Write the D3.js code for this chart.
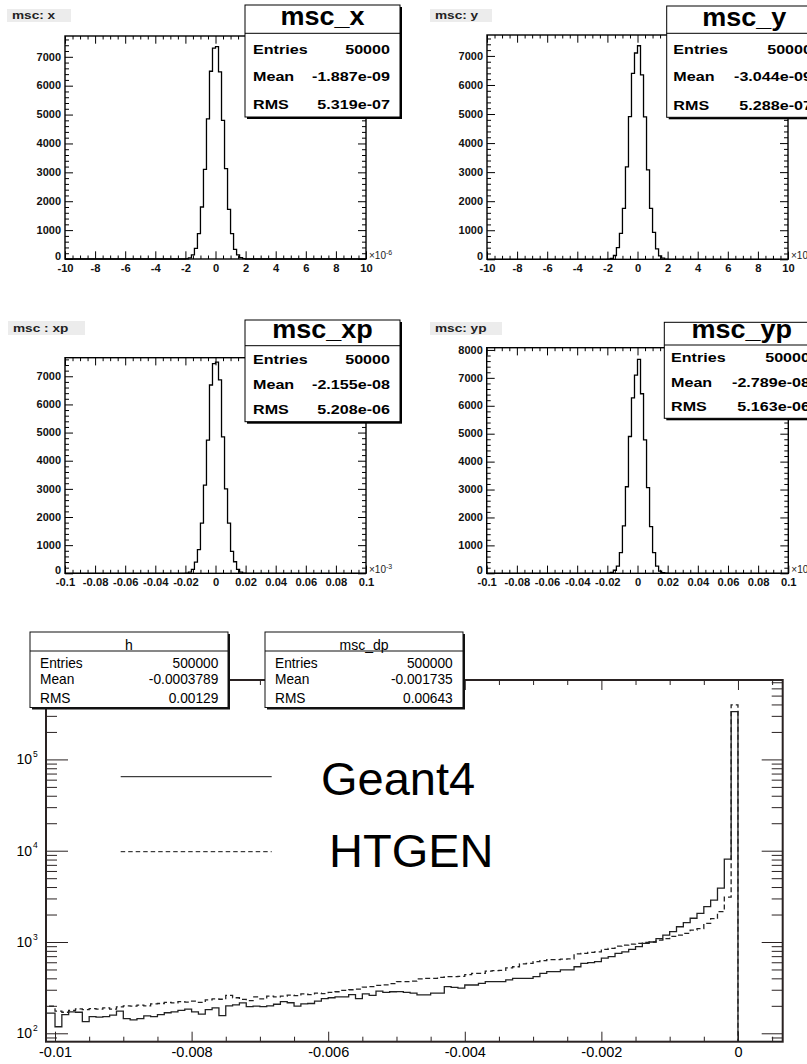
<!DOCTYPE html>
<html>
<head>
<meta charset="utf-8">
<script src="https://cdn.jsdelivr.net/npm/d3@7"></script>
<style>
  body { margin: 0; background: #fff; }
  svg { display: block; font-family: "Liberation Sans", Arial, Helvetica, sans-serif; }
</style>
</head>
<body>
<svg id="canvas" width="807" height="1064"></svg>
<script>
// ---------------------------------------------------------------------------
// Data
// ---------------------------------------------------------------------------

// msc_x / msc_y : bins of 0.2 (x10^-6) covering [-2, 2]; all other bins in [-10, 10] are empty
const posBinStart = -2;
const posBinWidth = 0.2;
const mscXCounts  = [8, 40, 140, 370, 880, 1800, 3100, 4850, 6500, 7300, 7350, 6480, 4800, 3130, 1720, 880, 330, 140, 45, 10];
const mscYCounts  = [5, 35, 130, 400, 890, 1750, 3180, 4910, 6400, 7100, 7350, 6350, 4900, 3080, 1750, 930, 360, 120, 40, 8];

// msc_xp / msc_yp : bins of 0.002 (x10^-3) covering [-0.02, 0.02]; all other bins in [-0.1, 0.1] are empty
const angBinStart = -0.02;
const angBinWidth = 0.002;
const mscXpCounts = [8, 40, 140, 400, 840, 1780, 3130, 4730, 6690, 7450, 7500, 6870, 4850, 3000, 1780, 780, 410, 140, 45, 8];
const mscYpCounts = [5, 30, 110, 260, 740, 1700, 3100, 4900, 6280, 7100, 7660, 6430, 4780, 3070, 1670, 740, 260, 80, 25, 5];

const posTicks      = [-10, -8, -6, -4, -2, 0, 2, 4, 6, 8, 10];
const posTickLabels = ["-10", "-8", "-6", "-4", "-2", "0", "2", "4", "6", "8", "10"];
const angTicks      = [-0.1, -0.08, -0.06, -0.04, -0.02, 0, 0.02, 0.04, 0.06, 0.08, 0.1];
const angTickLabels = ["-0.1", "-0.08", "-0.06", "-0.04", "-0.02", "0", "0.02", "0.04", "0.06", "0.08", "0.1"];
const countTicks7   = [0, 1000, 2000, 3000, 4000, 5000, 6000, 7000];
const countTicks8   = [0, 1000, 2000, 3000, 4000, 5000, 6000, 7000, 8000];

const panelTitles   = ["msc: x", "msc: y", "msc : xp", "msc: yp"];
const statNames     = ["msc_x", "msc_y", "msc_xp", "msc_yp"];
const statEntries   = ["50000", "50000", "50000", "50000"];
const statMeans     = ["-1.887e-09", "-3.044e-09", "-2.155e-08", "-2.789e-08"];
const statRMS       = ["5.319e-07", "5.288e-07", "5.208e-06", "5.163e-06"];
const axisExponents = ["-6", "-6", "-3", "-3"];

// Energy-loss comparison: bins of 0.0001 starting at -0.0102 (109 bins up to 0.0007)
const dpBinStart = -0.0102;
const dpBinWidth = 0.0001;
const geant4Counts = [
  166, 166, 118, 160, 172, 170, 134, 152, 150, 152, 158, 175, 145, 140, 145, 155, 152, 160, 168, 172,
  178, 184, 172, 162, 182, 190, 156, 200, 205, 215, 196, 198, 196, 200, 208, 222, 216, 198, 210, 212,
  225, 240, 245, 250, 250, 265, 240, 270, 260, 290, 280, 285, 286, 280, 275, 263, 263, 275, 275, 324,
  318, 313, 338, 338, 353, 368, 368, 368, 384, 400, 400, 400, 417, 454, 474, 474, 494, 494, 536, 584,
  595, 610, 665, 690, 751, 780, 830, 888, 966, 1000, 1090, 1190, 1300, 1470, 1630, 1820, 2060, 2440, 2880, 3900,
  8070, 333000, 0, 0, 0, 0, 0, 0, 0
];
const htgenCounts = [
  200, 198, 175, 170, 178, 185, 182, 186, 184, 190, 184, 195, 200, 198, 204, 200, 210, 212, 218, 215,
  222, 220, 225, 218, 232, 238, 236, 260, 245, 235, 228, 250, 238, 255, 250, 256, 262, 258, 270, 265,
  276, 272, 280, 285, 295, 300, 305, 320, 325, 335, 340, 350, 368, 368, 372, 395, 400, 400, 410, 417,
  417, 420, 440, 454, 454, 480, 486, 490, 520, 536, 575, 584, 610, 625, 640, 640, 650, 655, 740, 751,
  770, 780, 830, 850, 900, 925, 950, 966, 990, 1000, 1050, 1090, 1150, 1190, 1243, 1352, 1400, 1600, 1800, 2150,
  3100, 395000, 0, 0, 0, 0, 0, 0, 0
];
const dpTicks         = [-0.01, -0.008, -0.006, -0.004, -0.002, 0];
const dpTickLabels    = ["-0.01", "-0.008", "-0.006", "-0.004", "-0.002", "0"];
const logTicks        = [1e2, 1e3, 1e4, 1e5];
const logTickExps     = ["2", "3", "4", "5"];
const seriesNames     = ["Geant4", "HTGEN"];
const dpStatNames     = ["h", "msc_dp"];
const dpEntries       = ["500000", "500000"];
const dpMeans         = ["-0.0003789", "-0.001735"];
const dpRMS           = ["0.00129", "0.00643"];

// ---------------------------------------------------------------------------
// Layout
// ---------------------------------------------------------------------------
const svg = d3.select("#canvas");

const smallPanels = [
  { counts: mscXCounts, binStart: posBinStart, binW: posBinWidth, xDomain: [-10, 10], ticks: posTicks, tickLabels: posTickLabels,
    minorStep: 0.5, yMax: 7720, yTicks: countTicks7,
    frame: { l: 65, r: 366, t: 36, b: 259 }, tbox: { x: 7, y: 9, w: 64, h: 13 },
    stat: { x: 245, y: 5, w: 155, h: 112, sep: 33.3, title: 25, rows: [49.3, 76.7, 104], lx: 253, vx: 390 } },
  { counts: mscYCounts, binStart: posBinStart, binW: posBinWidth, xDomain: [-10, 10], ticks: posTicks, tickLabels: posTickLabels,
    minorStep: 0.5, yMax: 7720, yTicks: countTicks7,
    frame: { l: 487, r: 788, t: 35, b: 259.3 }, tbox: { x: 430, y: 9, w: 62, h: 13 },
    stat: { x: 666.7, y: 6, w: 155, h: 111.3, sep: 33.3, title: 26, rows: [49.3, 76.7, 105.3], lx: 673.3, vx: 812 } },
  { counts: mscXpCounts, binStart: angBinStart, binW: angBinWidth, xDomain: [-0.1, 0.1], ticks: angTicks, tickLabels: angTickLabels,
    minorStep: 0.005, yMax: 7660, yTicks: countTicks7,
    frame: { l: 65, r: 366, t: 357.7, b: 573.3 }, tbox: { x: 8, y: 321, w: 77, h: 14 },
    stat: { x: 245, y: 320, w: 155, h: 101.7, sep: 345.7, title: 338.3, rows: [359, 384, 409], lx: 253, vx: 390 } },
  { counts: mscYpCounts, binStart: angBinStart, binW: angBinWidth, xDomain: [-0.1, 0.1], ticks: angTicks, tickLabels: angTickLabels,
    minorStep: 0.005, yMax: 8080, yTicks: countTicks8,
    frame: { l: 486.7, r: 788.3, t: 347.7, b: 573.3 }, tbox: { x: 430, y: 322, w: 72, h: 13 },
    stat: { x: 664.3, y: 322.3, w: 155, h: 96, sep: 345, title: 338.3, rows: [357.7, 382.7, 406.7], lx: 671, vx: 810 } }
];

// Text helper: horizontally stretched text anchored at (x, y)
function label(g, x, y, str, o) {
  return g.append("text")
    .attr("transform", `translate(${x},${y}) scale(${o.sx || 1},1)`)
    .attr("text-anchor", o.anchor || "start")
    .style("font-size", o.size + "px")
    .style("font-weight", o.weight || "normal")
    .attr("fill", o.fill || "#000")
    .text(str);
}

function styleAxis(g) {
  g.select(".domain").remove();
  g.attr("font-family", null).attr("font-size", null);
}

function minorValues(domain, step, majors) {
  const n = Math.round((domain[1] - domain[0]) / step);
  return d3.range(n + 1).map(i => domain[0] + i * step)
    .filter(v => !majors.some(m => Math.abs(m - v) < step * 1e-3));
}

// ---------------------------------------------------------------------------
// Four small histograms
// ---------------------------------------------------------------------------
smallPanels.forEach((p, idx) => {
  const g = svg.append("g");
  const f = p.frame;
  const x = d3.scaleLinear().domain(p.xDomain).range([f.l, f.r]);
  const y = d3.scaleLinear().domain([0, p.yMax]).range([f.b, f.t]);

  // grey title tag
  g.append("rect").attr("x", p.tbox.x).attr("y", p.tbox.y).attr("width", p.tbox.w).attr("height", p.tbox.h)
    .attr("fill", "#ececec");
  label(g, p.tbox.x + 5, p.tbox.y + p.tbox.h - 3, panelTitles[idx], { size: 10.5, weight: "bold", sx: 1.3, fill: "#222" });

  // frame
  g.append("rect").attr("x", f.l).attr("y", f.t).attr("width", f.r - f.l).attr("height", f.b - f.t)
    .attr("fill", "none").attr("stroke", "#000").attr("stroke-width", 1.4);

  const minorX = minorValues(p.xDomain, p.minorStep, p.ticks);
  const minorY = d3.range(0, p.yMax, 200).filter(v => v % 1000 !== 0);

  // bottom axis with labels
  const bx = g.append("g").attr("transform", `translate(0,${f.b})`)
    .call(d3.axisBottom(x).tickValues(p.ticks).tickSizeInner(-7.7).tickSizeOuter(0).tickPadding(5.5)
      .tickFormat((d, i) => p.tickLabels[i]));
  styleAxis(bx);
  bx.selectAll("text").style("font-size", "10px").style("font-weight", "bold").attr("fill", "#111")
    .attr("transform", "scale(1.12,1)");
  g.append("g").attr("transform", `translate(0,${f.b})`)
    .call(d3.axisBottom(x).tickValues(minorX).tickSizeInner(-3.5).tickSizeOuter(0).tickFormat(""))
    .call(styleAxis);
  // top axis
  g.append("g").attr("transform", `translate(0,${f.t})`)
    .call(d3.axisTop(x).tickValues(p.ticks).tickSizeInner(-7.7).tickSizeOuter(0).tickFormat(""))
    .call(styleAxis);
  g.append("g").attr("transform", `translate(0,${f.t})`)
    .call(d3.axisTop(x).tickValues(minorX).tickSizeInner(-3.5).tickSizeOuter(0).tickFormat(""))
    .call(styleAxis);
  // left axis with labels
  const ly = g.append("g").attr("transform", `translate(${f.l},0)`)
    .call(d3.axisLeft(y).tickValues(p.yTicks).tickSizeInner(-8).tickSizeOuter(0).tickPadding(3.6)
      .tickFormat(d3.format("d")));
  styleAxis(ly);
  ly.selectAll("text").style("font-size", "10px").style("font-weight", "bold").attr("fill", "#111")
    .attr("transform", d => d === 0 ? "translate(0,-3) scale(1.1,1)" : "scale(1.1,1)");
  g.append("g").attr("transform", `translate(${f.l},0)`)
    .call(d3.axisLeft(y).tickValues(minorY).tickSizeInner(-4).tickSizeOuter(0).tickFormat(""))
    .call(styleAxis);
  // right axis
  g.append("g").attr("transform", `translate(${f.r},0)`)
    .call(d3.axisRight(y).tickValues(p.yTicks).tickSizeInner(-8).tickSizeOuter(0).tickFormat(""))
    .call(styleAxis);
  g.append("g").attr("transform", `translate(${f.r},0)`)
    .call(d3.axisRight(y).tickValues(minorY).tickSizeInner(-4).tickSizeOuter(0).tickFormat(""))
    .call(styleAxis);

  // exponent of the x axis
  const ex = g.append("text").attr("transform", `translate(${f.r + 3},${f.b})`)
    .style("font-size", "10px").attr("fill", "#222");
  ex.append("tspan").text("\u00d710");
  ex.append("tspan").attr("dy", -4).style("font-size", "7px").text(axisExponents[idx]);

  // histogram outline
  const nb = p.counts.length;
  const pts = [[p.xDomain[0], 0], [p.binStart, 0]];
  p.counts.forEach((c, i) => {
    const lo = p.binStart + i * p.binW;
    pts.push([lo, c], [lo + p.binW, c]);
  });
  pts.push([p.binStart + nb * p.binW, 0], [p.xDomain[1], 0]);
  g.append("path").datum(pts)
    .attr("d", d3.line().x(d => x(d[0])).y(d => y(d[1])))
    .attr("fill", "none").attr("stroke", "#000").attr("stroke-width", 1.3);

  // statistics box with shadow
  const s = p.stat;
  g.append("rect").attr("x", s.x + 2).attr("y", s.y + 2).attr("width", s.w).attr("height", s.h).attr("fill", "#000");
  g.append("rect").attr("x", s.x).attr("y", s.y).attr("width", s.w).attr("height", s.h)
    .attr("fill", "#fff").attr("stroke", "#000").attr("stroke-width", 1);
  g.append("line").attr("x1", s.x).attr("x2", s.x + s.w).attr("y1", s.sep).attr("y2", s.sep)
    .attr("stroke", "#000").attr("stroke-width", 1);
  label(g, s.x + s.w / 2, s.title, statNames[idx], { size: 25, weight: "bold", sx: 1.08, anchor: "middle" });
  const rowLabels = ["Entries", "Mean", "RMS"];
  const rowValues = [statEntries[idx], statMeans[idx], statRMS[idx]];
  s.rows.forEach((ry, i) => {
    label(g, s.lx, ry + 4.6, rowLabels[i], { size: 12.6, weight: "bold", sx: 1.28 });
    label(g, s.vx, ry + 4.6, rowValues[i], { size: 12.6, weight: "bold", sx: 1.28, anchor: "end" });
  });
});

// ---------------------------------------------------------------------------
// Energy-loss comparison (log scale)
// ---------------------------------------------------------------------------
const F = { l: 46, r: 782.7, t: 680, b: 1041.7 };
const dpDomain = [-0.010132, 0.000655];
const xd = d3.scaleLinear().domain(dpDomain).range([F.l, F.r]);
const yd = d3.scaleLog().domain([80.9, 741000]).range([F.b, F.t]);
const gb = svg.append("g");

svg.append("defs").append("clipPath").attr("id", "dpClip")
  .append("rect").attr("x", F.l).attr("y", F.t).attr("width", F.r - F.l).attr("height", F.b - F.t);

const dpMinor = minorValues([-0.01, 0.0005], 0.0005, dpTicks);
const logMinor = [];
[1, 2, 3, 4, 5].forEach(dec => d3.range(2, 10).forEach(m => {
  const v = m * Math.pow(10, dec);
  if (v >= 80.9 && v <= 741000) logMinor.push(v);
}));

const axisCol = "#2a2222";
function tickAxis(axis, tr) {
  const a = gb.append("g").attr("transform", tr).call(axis);
  styleAxis(a);
  a.selectAll("line").attr("stroke", axisCol);
  return a;
}
// x axes
const bxAxis = tickAxis(d3.axisBottom(xd).tickValues(dpTicks).tickSizeInner(-10).tickSizeOuter(0).tickPadding(5)
  .tickFormat((d, i) => dpTickLabels[i]), `translate(0,${F.b})`);
bxAxis.selectAll("text").style("font-size", "14.5px").attr("fill", "#000");
tickAxis(d3.axisBottom(xd).tickValues(dpMinor).tickSizeInner(-5).tickSizeOuter(0).tickFormat(""), `translate(0,${F.b})`);
tickAxis(d3.axisTop(xd).tickValues(dpTicks).tickSizeInner(-10).tickSizeOuter(0).tickFormat(""), `translate(0,${F.t})`);
tickAxis(d3.axisTop(xd).tickValues(dpMinor).tickSizeInner(-5).tickSizeOuter(0).tickFormat(""), `translate(0,${F.t})`);
// y axes
tickAxis(d3.axisLeft(yd).tickValues(logTicks).tickSizeInner(-22).tickSizeOuter(0).tickFormat(""), `translate(${F.l},0)`);
tickAxis(d3.axisLeft(yd).tickValues(logMinor).tickSizeInner(-11).tickSizeOuter(0).tickFormat(""), `translate(${F.l},0)`);
tickAxis(d3.axisRight(yd).tickValues(logTicks).tickSizeInner(-21).tickSizeOuter(0).tickFormat(""), `translate(${F.r},0)`);
tickAxis(d3.axisRight(yd).tickValues(logMinor).tickSizeInner(-11).tickSizeOuter(0).tickFormat(""), `translate(${F.r},0)`);

// log labels 10^n
logTicks.forEach((v, i) => {
  gb.append("text").attr("x", 32).attr("y", yd(v) + 5).attr("text-anchor", "end")
    .style("font-size", "14px").attr("fill", "#000").text("10");
  gb.append("text").attr("x", 33).attr("y", yd(v) - 2.5).style("font-size", "8.5px").attr("fill", "#000")
    .text(logTickExps[i]);
});

// frame
gb.append("rect").attr("x", F.l).attr("y", F.t).attr("width", F.r - F.l).attr("height", F.b - F.t)
  .attr("fill", "none").attr("stroke", axisCol).attr("stroke-width", 2);

// histograms
function dpPoints(counts) {
  const pts = [];
  counts.forEach((c, i) => {
    const lo = dpBinStart + i * dpBinWidth;
    pts.push([lo, c], [lo + dpBinWidth, c]);
  });
  return pts;
}
const dpLine = d3.line().x(d => xd(d[0])).y(d => d[1] > 0 ? yd(d[1]) : F.b);
const hg = gb.append("g").attr("clip-path", "url(#dpClip)");
hg.append("path").datum(dpPoints(htgenCounts)).attr("d", dpLine)
  .attr("fill", "none").attr("stroke", "#222").attr("stroke-width", 1.3).attr("stroke-dasharray", "5,3");
hg.append("path").datum(dpPoints(geant4Counts)).attr("d", dpLine)
  .attr("fill", "none").attr("stroke", "#222").attr("stroke-width", 1.3);

// legend
gb.append("line").attr("x1", 120.7).attr("x2", 271.7).attr("y1", 776.7).attr("y2", 776.7)
  .attr("stroke", "#111").attr("stroke-width", 1);
gb.append("line").attr("x1", 120.7).attr("x2", 271.7).attr("y1", 851.7).attr("y2", 851.7)
  .attr("stroke", "#111").attr("stroke-width", 1).attr("stroke-dasharray", "4.5,3");
label(gb, 321, 795, seriesNames[0], { size: 47 });
label(gb, 329, 866.7, seriesNames[1], { size: 47 });

// statistics boxes
const dpBoxes = [
  { x: 30, lx: 40, vx: 218.3 },
  { x: 265, lx: 275, vx: 452.7 }
];
dpBoxes.forEach((b, i) => {
  const y0 = 632, w = 198, h = 75.5, sep = 651;
  gb.append("rect").attr("x", b.x + 2).attr("y", y0 + 2).attr("width", w).attr("height", h).attr("fill", "#111");
  gb.append("rect").attr("x", b.x).attr("y", y0).attr("width", w).attr("height", h)
    .attr("fill", "#fff").attr("stroke", "#111").attr("stroke-width", 1);
  gb.append("line").attr("x1", b.x).attr("x2", b.x + w).attr("y1", sep).attr("y2", sep)
    .attr("stroke", "#111").attr("stroke-width", 1.2);
  label(gb, b.x + w / 2, 650, dpStatNames[i], { size: 14, anchor: "middle" });
  const names = ["Entries", "Mean", "RMS"];
  const vals = [dpEntries[i], dpMeans[i], dpRMS[i]];
  [667.5, 684, 703].forEach((ry, k) => {
    label(gb, b.lx, ry, names[k], { size: 14, sx: 0.98 });
    label(gb, b.vx, ry, vals[k], { size: 14, sx: 0.98, anchor: "end" });
  });
});
</script>
</body>
</html>
